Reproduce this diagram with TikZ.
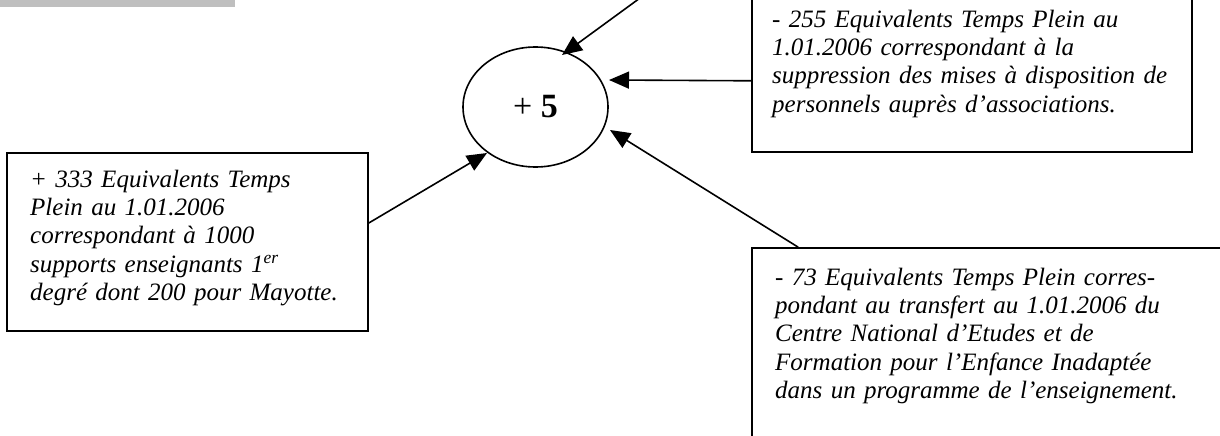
\documentclass[tikz,border=0pt]{standalone}
\usepackage{fontspec}
\setmainfont{Liberation Serif}
\usetikzlibrary{arrows.meta,shapes.geometric,calc}
\begin{document}
\begin{tikzpicture}[x=1pt,y=-1pt,
  box/.style={draw,line width=1.6pt,rectangle,inner sep=0pt},
  txt/.style={font=\fontsize{25}{28.3}\selectfont\itshape,align=left,inner sep=0pt,anchor=north west,text width=#1},
  arr/.style={line width=1.6pt,-{Triangle[length=20pt,width=17pt]}},
]
\useasboundingbox (0,0) rectangle (1220,436);
\fill[black!25] (0,0) rectangle (235,7);

\node[box,minimum width=361pt,minimum height=178pt] (lbox) at (187.5,242) {};
\node[box,minimum width=440pt,minimum height=164pt] (tbox) at (972,70) {};
\node[box,minimum width=488pt,minimum height=204pt] (bbox) at (996,350) {};

\node[txt=330pt] (ltext) at (30,167.2) {\strut + 333 Equivalents Temps\\Plein au 1.01.2006\\correspondant à 1000\\supports enseignants 1\textsuperscript{er}\\degré dont 200 pour Mayotte.};
\node[txt=420pt] (ttext) at (772,7.2) {\strut - 255 Equivalents Temps Plein au\\1.01.2006 correspondant à la\\suppression des mises à disposition de\\personnels auprès d’associations.};
\node[txt=440pt] (btext) at (775,265.2) {\strut - 73 Equivalents Temps Plein corres-\\pondant au transfert au 1.01.2006 du\\Centre National d’Etudes et de\\Formation pour l’Enfance Inadaptée\\dans un programme de l’enseignement.};

\node[draw,ellipse,line width=1.6pt,minimum width=145pt,minimum height=120pt,inner sep=0pt,font=\fontsize{34}{40}\selectfont] (ell) at (535.5,107) {+ \textbf{5}};

\coordinate (topsrc) at (651,-10);
\draw[arr] (topsrc) -- ($(ell.center)+(26.5,-52)$);
\draw[arr] ($(tbox.south west)+(0,-72)$) -- ($(ell.center)+(73.5,-27)$);
\draw[arr] ($(lbox.east)+(0,-19)$) -- ($(ell.center)+(-48.5,46)$);
\draw[arr] ($(bbox.north west)+(47,0)$) -- ($(ell.center)+(74.5,23)$);
\end{tikzpicture}
\end{document}
